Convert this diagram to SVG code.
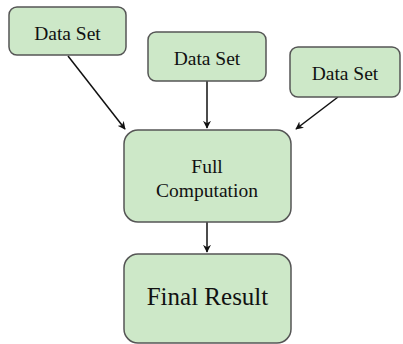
<svg xmlns="http://www.w3.org/2000/svg" width="403" height="344" viewBox="0 0 403 344">
<style>
.box{fill:#cde8c8;stroke:#555;stroke-width:1.5}
.t{font-family:'Liberation Serif','Times New Roman',serif;fill:#111;text-anchor:middle}
.c{stroke:#111;stroke-width:1.5;fill:none;marker-end:url(#ah)}
</style>
<defs>
<marker id="ah" viewBox="0 0 10 10" refX="9" refY="5" markerWidth="8" markerHeight="8" markerUnits="userSpaceOnUse" orient="auto">
<path d="M0,0 L10,5 L0,10 L3,5 Z" fill="#111"/>
</marker>
</defs>
<rect width="403" height="344" fill="#fff"/>
<g id="connectors">
<line class="c" x1="68" y1="56" x2="125" y2="129"/>
<line class="c" x1="207" y1="81" x2="207" y2="128"/>
<line class="c" x1="338" y1="97" x2="296" y2="129"/>
<line class="c" x1="207" y1="222" x2="207" y2="252"/>
</g>
<g id="ds1">
<rect class="box" x="9" y="7" width="117" height="48" rx="8"/>
<text class="t" x="67.5" y="40" font-size="19.5">Data Set</text>
</g>
<g id="ds2">
<rect class="box" x="148" y="32" width="118" height="49" rx="8"/>
<text class="t" x="207" y="65" font-size="19.5">Data Set</text>
</g>
<g id="ds3">
<rect class="box" x="290" y="47" width="110" height="50" rx="8"/>
<text class="t" x="345" y="80" font-size="19.5">Data Set</text>
</g>
<g id="full">
<rect class="box" x="124" y="130" width="167" height="92" rx="14"/>
<text class="t" x="207" y="173" font-size="19.5">Full</text>
<text class="t" x="207" y="196.5" font-size="19.5">Computation</text>
</g>
<g id="final">
<rect class="box" x="124" y="254" width="167" height="89" rx="14"/>
<text class="t" x="207.5" y="305" font-size="25">Final Result</text>
</g>
</svg>
